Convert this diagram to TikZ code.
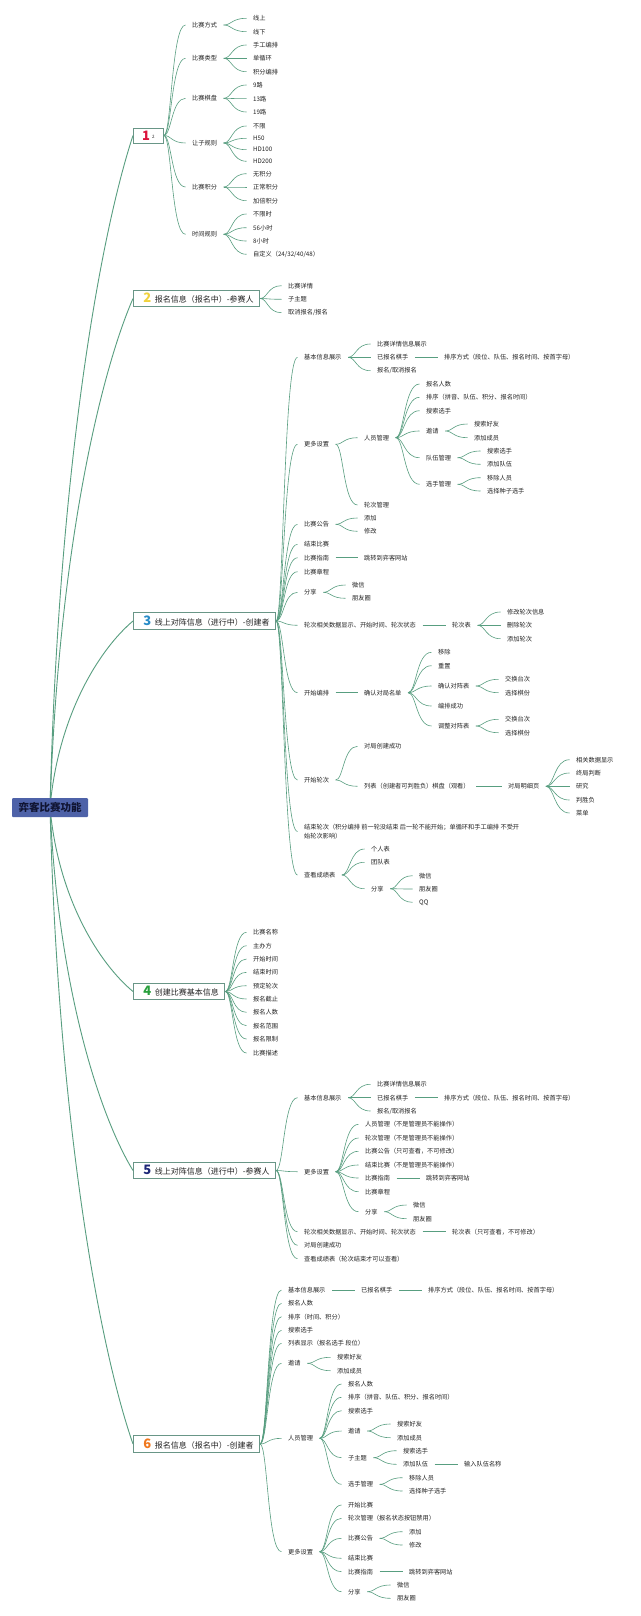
\documentclass[tikz,border=0pt]{standalone}
\usepackage{fontspec}
\setmainfont{Noto Sans CJK SC}
\usetikzlibrary{calc,backgrounds}
\definecolor{lnc}{RGB}{88,158,128}
\definecolor{bxc}{RGB}{105,150,135}
\definecolor{rootc}{RGB}{78,98,168}
\definecolor{txt}{RGB}{35,35,35}
\definecolor{nA}{RGB}{220,20,60}
\definecolor{nB}{RGB}{240,210,60}
\definecolor{nC}{RGB}{40,140,200}
\definecolor{nD}{RGB}{40,160,60}
\definecolor{nE}{RGB}{30,40,120}
\definecolor{nF}{RGB}{240,120,30}
\newcommand\bignum[2]{{\fontsize{13}{13}\selectfont\bfseries\color{#1}#2}}
\newcommand\lk[3][6.5pt]{\draw[ln] let \p1=($(#2.east)+(#1,0pt)$), \p2=($(#3.west)+(-6.5pt,0pt)$) in (\p1) .. controls ({\x1+0.35*(\x2-\x1)},\y1) and ({\x1+0.35*(\x2-\x1)},\y2) .. (\p2);}
\newcommand\lks[3][6.5pt]{\foreach \q in {#3}{\lk[#1]{#2}{\q}}}
\newcommand\lr[2]{\draw[lnr] let \p1=(#1.center), \p2=(#2.west) in (\p1) .. controls ({\x1+0.1*(\x2-\x1)},{\y1+0.5*(\y2-\y1)}) and ({\x2-0.4*(\x2-\x1)},{\y2-0.15*(\y2-\y1)}) .. (\p2);}
\begin{document}
\begin{tikzpicture}[x=1pt,y=-1pt,
  t/.style={anchor=west,inner sep=0pt,text=txt,font=\fontsize{6.2}{7.5}\selectfont},
  bx/.style={draw=bxc,line width=0.9pt,fill=white,anchor=west,minimum height=16.5pt,inner sep=0pt,text=txt,font=\fontsize{8}{9}\selectfont},
  rootbox/.style={fill=rootc,text={rgb,255:red,16;green,20;blue,50},font=\fontsize{10.5}{12}\selectfont\bfseries,minimum width=76pt,minimum height=19pt,inner sep=0pt,rounded corners=1pt},
  ln/.style={draw=lnc,line width=0.6pt},
  lnr/.style={draw=lnc,line width=0.9pt}]
\useasboundingbox (0,0) rectangle (640,1616);
\begin{pgfonlayer}{background}
\fill[white] (0,0) rectangle (640,1616);
\end{pgfonlayer}
% root
\node[rootbox] (root) at (50,807.5) {弈客比赛功能};
% branch boxes
\node[bx,minimum width=30pt,minimum height=15pt] (b1) at (133,135.5) {\bignum{nA}{1}\kern2pt\raisebox{2pt}{\fontsize{4.5}{5}\selectfont 2}};
\node[bx] (b2) at (133,298.5) {\kern10pt\bignum{nB}{2}\kern3.5pt 报名信息（报名中）-参赛人\kern6pt};
\node[bx] (b3) at (133,621) {\kern10pt\bignum{nC}{3}\kern3.5pt 线上对阵信息（进行中）-创建者\kern6pt};
\node[bx] (b4) at (133,991.5) {\kern10pt\bignum{nD}{4}\kern3.5pt 创建比赛基本信息\kern6pt};
\node[bx] (b5) at (133,1170.5) {\kern10pt\bignum{nE}{5}\kern3.5pt 线上对阵信息（进行中）-参赛人\kern6pt};
\node[bx] (b6) at (133,1444) {\kern10pt\bignum{nF}{6}\kern3.5pt 报名信息（报名中）-创建者\kern6pt};
% ---------- branch 1
\node[t] (a1) at (192,25) {比赛方式};
\node[t] (a1a) at (253,18.3) {线上};
\node[t] (a1b) at (253,31.7) {线下};
\node[t] (a2) at (192,58.3) {比赛类型};
\node[t] (a2a) at (253,45) {手工编排};
\node[t] (a2b) at (253,58.3) {单循环};
\node[t] (a2c) at (253,71.7) {积分编排};
\node[t] (a3) at (192,98.3) {比赛棋盘};
\node[t] (a3a) at (253,85) {9路};
\node[t] (a3b) at (253,98.7) {13路};
\node[t] (a3c) at (253,112) {19路};
\node[t] (a4) at (192,143) {让子规则};
\node[t] (a4a) at (253,126) {不限};
\node[t] (a4b) at (253,138.3) {H50};
\node[t] (a4c) at (253,149.7) {HD100};
\node[t] (a4d) at (253,161.3) {HD200};
\node[t] (a5) at (192,187) {比赛积分};
\node[t] (a5a) at (253,173.7) {无积分};
\node[t] (a5b) at (253,187) {正常积分};
\node[t] (a5c) at (253,200.7) {加倍积分};
\node[t] (a6) at (192,234.3) {时间规则};
\node[t] (a6a) at (253,214) {不限时};
\node[t] (a6b) at (253,227.7) {56小时};
\node[t] (a6c) at (253,241) {8小时};
\node[t] (a6d) at (253,254.3) {自定义（24/32/40/48）};
% ---------- branch 2
\node[t] (c1) at (288,285.7) {比赛详情};
\node[t] (c2) at (288,299.3) {子主题};
\node[t] (c3) at (288,312.7) {取消报名/报名};
% ---------- branch 3
\node[t] (d1) at (304,357.3) {基本信息展示};
\node[t] (d1a) at (377,344) {比赛详情信息展示};
\node[t] (d1b) at (377,357.3) {已报名棋手};
\node[t] (d1c) at (377,370.7) {报名/取消报名};
\node[t] (d1b1) at (444,357.3) {排序方式（段位、队伍、报名时间、按首字母）};
\node[t] (d2) at (304,444.3) {更多设置};
\node[t] (d2a) at (364,437.7) {人员管理};
\node[t] (d2b) at (364,505) {轮次管理};
\node[t] (d2a1) at (426,384) {报名人数};
\node[t] (d2a2) at (426,397.3) {排序（拼音、队伍、积分、报名时间）};
\node[t] (d2a3) at (426,410.7) {搜索选手};
\node[t] (d2a4) at (426,431) {邀请};
\node[t] (d2a5) at (426,457.7) {队伍管理};
\node[t] (d2a6) at (426,484.3) {选手管理};
\node[t] (d2a4a) at (474,424) {搜索好友};
\node[t] (d2a4b) at (474,437.7) {添加成员};
\node[t] (d2a5a) at (487,451) {搜索选手};
\node[t] (d2a5b) at (487,464.3) {添加队伍};
\node[t] (d2a6a) at (487,477.7) {移除人员};
\node[t] (d2a6b) at (487,491) {选择种子选手};
\node[t] (d3) at (304,524.3) {比赛公告};
\node[t] (d3a) at (364,518) {添加};
\node[t] (d3b) at (364,531.3) {修改};
\node[t] (d4) at (304,544.3) {结束比赛};
\node[t] (d5) at (304,557.7) {比赛指南};
\node[t] (d5a) at (364,557.7) {跳转到弈客网站};
\node[t] (d6) at (304,571.7) {比赛章程};
\node[t] (d7) at (304,592.3) {分享};
\node[t] (d7a) at (352,585) {微信};
\node[t] (d7b) at (352,598.3) {朋友圈};
\node[t] (d8) at (304,625.3) {轮次相关数据显示、开始时间、轮次状态};
\node[t] (d8a) at (452,625.3) {轮次表};
\node[t] (d8a1) at (507,612) {修改轮次信息};
\node[t] (d8a2) at (507,625.3) {删除轮次};
\node[t] (d8a3) at (507,638.7) {添加轮次};
\node[t] (d9) at (304,692.7) {开始编排};
\node[t] (d9a) at (364,692.7) {确认对局名单};
\node[t] (d9a1) at (438,652.3) {移除};
\node[t] (d9a2) at (438,665.7) {重置};
\node[t] (d9a3) at (438,686) {确认对阵表};
\node[t] (d9a4) at (438,706) {编排成功};
\node[t] (d9a5) at (438,726) {调整对阵表};
\node[t] (d9a3a) at (505,679.3) {交换台次};
\node[t] (d9a3b) at (505,692.7) {选择棋份};
\node[t] (d9a5a) at (505,719.3) {交换台次};
\node[t] (d9a5b) at (505,732.7) {选择棋份};
\node[t] (d10) at (304,780) {开始轮次};
\node[t] (d10a) at (364,746.3) {对局创建成功};
\node[t] (d10b) at (364,786.3) {列表（创建者可判胜负）棋盘（观看）};
\node[t] (d10b1) at (508,786.3) {对局明细页};
\node[t] (d10b1a) at (576,759.7) {相关数据显示};
\node[t] (d10b1b) at (576,773) {终局判断};
\node[t] (d10b1c) at (576,786.3) {研究};
\node[t] (d10b1d) at (576,800) {判胜负};
\node[t] (d10b1e) at (576,813) {菜单};
\node[t,align=left,font=\fontsize{6.2}{8.7}\selectfont] (d11) at (304,831.5) {结束轮次（积分编排 前一轮没结束 后一轮不能开始；单循环和手工编排 不受开\\始轮次影响）};
\node[t] (d12) at (304,875) {查看成绩表};
\node[t] (d12a) at (371,849) {个人表};
\node[t] (d12b) at (371,862.3) {团队表};
\node[t] (d12c) at (371,888.7) {分享};
\node[t] (d12c1) at (419,875.7) {微信};
\node[t] (d12c2) at (419,889) {朋友圈};
\node[t] (d12c3) at (419,902.3) {QQ};
% ---------- branch 4
\node[t] (e1) at (253,932.3) {比赛名称};
\node[t] (e2) at (253,945.7) {主办方};
\node[t] (e3) at (253,959) {开始时间};
\node[t] (e4) at (253,972.3) {结束时间};
\node[t] (e5) at (253,985.7) {预定轮次};
\node[t] (e6) at (253,999) {报名截止};
\node[t] (e7) at (253,1012.3) {报名人数};
\node[t] (e8) at (253,1025.7) {报名范围};
\node[t] (e9) at (253,1039) {报名限制};
\node[t] (e10) at (253,1053) {比赛描述};
% ---------- branch 5
\node[t] (f1) at (304,1097.7) {基本信息展示};
\node[t] (f1a) at (377,1084.3) {比赛详情信息展示};
\node[t] (f1b) at (377,1097.7) {已报名棋手};
\node[t] (f1c) at (377,1111) {报名/取消报名};
\node[t] (f1b1) at (444,1097.7) {排序方式（段位、队伍、报名时间、按首字母）};
\node[t] (f2) at (304,1171.7) {更多设置};
\node[t] (f2a) at (365,1124.3) {人员管理（不是管理员不能操作）};
\node[t] (f2b) at (365,1138) {轮次管理（不是管理员不能操作）};
\node[t] (f2c) at (365,1151.3) {比赛公告（只可查看，不可修改）};
\node[t] (f2d) at (365,1165) {结束比赛（不是管理员不能操作）};
\node[t] (f2e) at (365,1178) {比赛指南};
\node[t] (f2f) at (365,1191.7) {比赛章程};
\node[t] (f2g) at (365,1211.7) {分享};
\node[t] (f2e1) at (426,1178) {跳转到弈客网站};
\node[t] (f2g1) at (413,1205) {微信};
\node[t] (f2g2) at (413,1218.7) {朋友圈};
\node[t] (f3) at (304,1231.7) {轮次相关数据显示、开始时间、轮次状态};
\node[t] (f3a) at (452,1231.7) {轮次表（只可查看，不可修改）};
\node[t] (f4) at (304,1245.3) {对局创建成功};
\node[t] (f5) at (304,1258.7) {查看成绩表（轮次结束才可以查看）};
% ---------- branch 6
\node[t] (g1) at (288,1290) {基本信息展示};
\node[t] (g1a) at (361,1290) {已报名棋手};
\node[t] (g1a1) at (428,1290) {排序方式（段位、队伍、报名时间、按首字母）};
\node[t] (g2) at (288,1303.3) {报名人数};
\node[t] (g3) at (288,1316.7) {排序（时间、积分）};
\node[t] (g4) at (288,1330.3) {搜索选手};
\node[t] (g5) at (288,1343.3) {列表显示（报名选手 段位）};
\node[t] (g6) at (288,1363.3) {邀请};
\node[t] (g6a) at (337,1357.3) {搜索好友};
\node[t] (g6b) at (337,1370.7) {添加成员};
\node[t] (g7) at (288,1438.3) {人员管理};
\node[t] (g7a) at (348,1384) {报名人数};
\node[t] (g7b) at (348,1397.3) {排序（拼音、队伍、积分、报名时间）};
\node[t] (g7c) at (348,1410.7) {搜索选手};
\node[t] (g7d) at (348,1431) {邀请};
\node[t] (g7e) at (348,1457.7) {子主题};
\node[t] (g7f) at (348,1484.3) {选手管理};
\node[t] (g7d1) at (397,1424) {搜索好友};
\node[t] (g7d2) at (397,1437.7) {添加成员};
\node[t] (g7e1) at (403,1450.7) {搜索选手};
\node[t] (g7e2) at (403,1464.3) {添加队伍};
\node[t] (g7e2a) at (464,1464.3) {输入队伍名称};
\node[t] (g7f1) at (409,1477.7) {移除人员};
\node[t] (g7f2) at (409,1491) {选择种子选手};
\node[t] (g8) at (288,1551.7) {更多设置};
\node[t] (g8a) at (348,1505) {开始比赛};
\node[t] (g8b) at (348,1518.3) {轮次管理（报名状态按钮禁用）};
\node[t] (g8c) at (348,1538.3) {比赛公告};
\node[t] (g8d) at (348,1558.3) {结束比赛};
\node[t] (g8e) at (348,1571.7) {比赛指南};
\node[t] (g8f) at (348,1591.7) {分享};
\node[t] (g8c1) at (409,1531.7) {添加};
\node[t] (g8c2) at (409,1545) {修改};
\node[t] (g8e1) at (409,1571.7) {跳转到弈客网站};
\node[t] (g8f1) at (397,1585) {微信};
\node[t] (g8f2) at (397,1598.3) {朋友圈};
% ---------- connectors
\begin{pgfonlayer}{background}
\foreach \q in {b1,b2,b3,b4,b5,b6}{\lr{root}{\q}}
% branch 1
\lks[0pt]{b1}{a1,a2,a3,a4,a5,a6}
\lks{a1}{a1a,a1b}
\lks{a2}{a2a,a2b,a2c}
\lks{a3}{a3a,a3b,a3c}
\lks{a4}{a4a,a4b,a4c,a4d}
\lks{a5}{a5a,a5b,a5c}
\lks{a6}{a6a,a6b,a6c,a6d}
% branch 2
\lks[0pt]{b2}{c1,c2,c3}
% branch 3
\lks[0pt]{b3}{d1,d2,d3,d4,d5,d6,d7,d8,d9,d10,d11,d12}
\lks{d1}{d1a,d1b,d1c}
\lk{d1b}{d1b1}
\lks{d2}{d2a,d2b}
\lks{d2a}{d2a1,d2a2,d2a3,d2a4,d2a5,d2a6}
\lks{d2a4}{d2a4a,d2a4b}
\lks{d2a5}{d2a5a,d2a5b}
\lks{d2a6}{d2a6a,d2a6b}
\lks{d3}{d3a,d3b}
\lk{d5}{d5a}
\lks{d7}{d7a,d7b}
\lk{d8}{d8a}
\lks{d8a}{d8a1,d8a2,d8a3}
\lk{d9}{d9a}
\lks{d9a}{d9a1,d9a2,d9a3,d9a4,d9a5}
\lks{d9a3}{d9a3a,d9a3b}
\lks{d9a5}{d9a5a,d9a5b}
\lks{d10}{d10a,d10b}
\lk{d10b}{d10b1}
\lks{d10b1}{d10b1a,d10b1b,d10b1c,d10b1d,d10b1e}
\lks{d12}{d12a,d12b,d12c}
\lks{d12c}{d12c1,d12c2,d12c3}
% branch 4
\lks[0pt]{b4}{e1,e2,e3,e4,e5,e6,e7,e8,e9,e10}
% branch 5
\lks[0pt]{b5}{f1,f2,f3,f4,f5}
\lks{f1}{f1a,f1b,f1c}
\lk{f1b}{f1b1}
\lks{f2}{f2a,f2b,f2c,f2d,f2e,f2f,f2g}
\lk{f2e}{f2e1}
\lks{f2g}{f2g1,f2g2}
\lk{f3}{f3a}
% branch 6
\lks[0pt]{b6}{g1,g2,g3,g4,g5,g6,g7,g8}
\lk{g1}{g1a}
\lk{g1a}{g1a1}
\lks{g6}{g6a,g6b}
\lks{g7}{g7a,g7b,g7c,g7d,g7e,g7f}
\lks{g7d}{g7d1,g7d2}
\lks{g7e}{g7e1,g7e2}
\lk{g7e2}{g7e2a}
\lks{g7f}{g7f1,g7f2}
\lks{g8}{g8a,g8b,g8c,g8d,g8e,g8f}
\lks{g8c}{g8c1,g8c2}
\lk{g8e}{g8e1}
\lks{g8f}{g8f1,g8f2}
\end{pgfonlayer}
\end{tikzpicture}
\end{document}
